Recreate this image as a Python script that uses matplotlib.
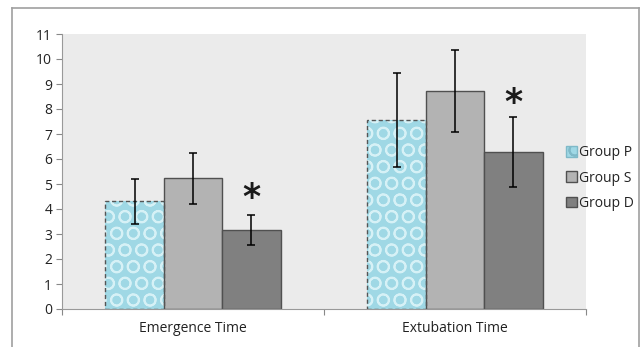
import numpy as np
import matplotlib
matplotlib.use("Agg")
import matplotlib.pyplot as plt
from matplotlib.patches import Patch
from matplotlib.lines import Line2D

categories = ["Emergence Time", "Extubation Time"]
groups = ["Group P", "Group S", "Group D"]
means = {
    "Group P": [4.32, 7.56],
    "Group S": [5.23, 8.72],
    "Group D": [3.16, 6.28],
}
err_hi = {
    "Group P": [5.22, 9.44],
    "Group S": [6.25, 10.36],
    "Group D": [3.78, 7.67],
}
err_lo = {
    "Group P": [3.42, 5.68],
    "Group S": [4.22, 7.07],
    "Group D": [2.55, 4.88],
}
star_y = [4.45, 8.25]

plt.rcParams["font.family"] = ["Open Sans", "DejaVu Sans"]
plt.rcParams["hatch.linewidth"] = 1.3

fig = plt.figure(figsize=(6.43, 3.47), dpi=100)
fig.patch.set_facecolor("white")

# outer chart frame
fig.add_artist(Line2D([12/643, 12/643], [0, 1 - 8/347], color="#a0a0a0", lw=1.2))
fig.add_artist(Line2D([12/643, 639/643], [1 - 8/347, 1 - 8/347], color="#a0a0a0", lw=1.2))
fig.add_artist(Line2D([639/643, 639/643], [0, 1 - 8/347], color="#a0a0a0", lw=1.2))

ax = fig.add_axes([62/643, 38/347, 524/643, 275/347])
ax.set_facecolor("#ebebeb")

x = np.arange(len(categories)) + 0.5
w = 0.223
offsets = [-w, 0, w]
colors = {"Group S": "#b3b3b3", "Group D": "#808080"}

for g, off in zip(groups, offsets):
    xs = x + off
    m = means[g]
    lo = np.array(m) - np.array(err_lo[g])
    hi = np.array(err_hi[g]) - np.array(m)
    if g == "Group P":
        ax.bar(xs, m, w, color="#9fd8e5", edgecolor="#d6f1f6", hatch="O", linewidth=0, zorder=2)
        ax.bar(xs, m, w, fill=False, edgecolor="#555555", linestyle=(0, (3, 2)), linewidth=1.0, zorder=3)
    else:
        ax.bar(xs, m, w, color=colors[g], edgecolor="#505050", linewidth=1.0, zorder=2)
    ax.errorbar(xs, m, yerr=[lo, hi], fmt="none", ecolor="black", elinewidth=1.1,
                capsize=3, capthick=1.1, zorder=4)

for xi, sy in zip(x + offsets[2], star_y):
    ax.text(xi, sy, "*", ha="center", va="center", fontsize=25, fontweight="bold",
            family="DejaVu Sans", color="#1a1a1a", zorder=5)

ax.set_xlim(0, 2)
ax.set_ylim(0, 11)
ax.set_yticks(range(0, 12))
ax.tick_params(axis="y", length=4, color="#888888", labelsize=10, labelcolor="#222222", pad=3)
ax.set_xticks([0, 1, 2])
ax.set_xticklabels([])
ax.tick_params(axis="x", which="major", length=4, color="#888888")
ax.set_xticks(x, minor=True)
ax.set_xticklabels(categories, minor=True)
ax.tick_params(axis="x", which="minor", length=0, labelsize=10, labelcolor="#222222", pad=9)

for s in ["top", "right"]:
    ax.spines[s].set_visible(False)
for s in ["left", "bottom"]:
    ax.spines[s].set_color("#999999")

handles = [
    Patch(facecolor="#9fd8e5", edgecolor="#7fb9c8", hatch="O"),
    Patch(facecolor="#b3b3b3", edgecolor="#505050"),
    Patch(facecolor="#808080", edgecolor="#505050"),
]
leg = fig.legend(handles, groups, loc="center left", bbox_to_anchor=(560/643, 1 - 178/347),
                 frameon=False, fontsize=10, handlelength=0.8, handleheight=0.8,
                 handletextpad=0.2, labelspacing=0.75, borderaxespad=0)
for t in leg.get_texts():
    t.set_color("#222222")

fig.savefig("out.png", dpi=100, facecolor="white")
